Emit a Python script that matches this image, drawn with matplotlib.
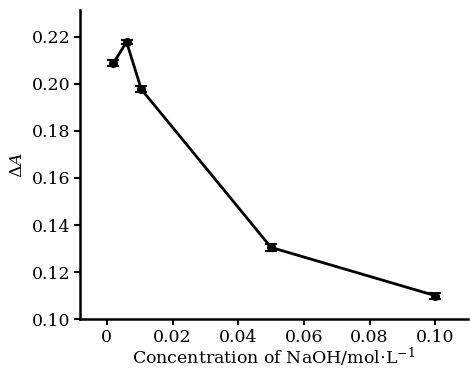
import matplotlib
matplotlib.use("Agg")
import matplotlib.pyplot as plt

# concentration of NaOH (mol/L) and delta A
conc = [0.002, 0.006, 0.0105, 0.05, 0.10]
dA = [0.2088, 0.2178, 0.1977, 0.1305, 0.1100]
err = [0.0013, 0.0010, 0.0012, 0.0015, 0.0013]

xticks = [0, 0.02, 0.04, 0.06, 0.08, 0.10]
xticklabels = ["0", "0.02", "0.04", "0.06", "0.08", "0.10"]
yticks = [0.10, 0.12, 0.14, 0.16, 0.18, 0.20, 0.22]

plt.rcParams['font.family'] = ['DejaVu Serif']
plt.rcParams['mathtext.fontset'] = 'dejavuserif'

fig = plt.figure(figsize=(4.7, 3.69), dpi=100)
ax = fig.add_axes([0.170, 0.135, 0.826, 0.838])

ax.errorbar(conc, dA, yerr=err, color='black', lw=2, marker='o', ms=5.5,
            capsize=4, elinewidth=1.5, capthick=1.5)

ax.set_xlim(-0.0082, 0.110)
ax.set_ylim(0.10, 0.2314)
ax.set_xticks(xticks)
ax.set_xticklabels(xticklabels)
ax.set_yticks(yticks)
ax.set_yticklabels(["%.2f" % v for v in yticks])

for s in ['top', 'right']:
    ax.spines[s].set_visible(False)
for s in ['left', 'bottom']:
    ax.spines[s].set_linewidth(1.8)
ax.tick_params(direction='out', length=4, width=1.5, labelsize=12.5, pad=3)

ax.set_xlabel(r"Concentration of NaOH/mol$\cdot$L$^{-1}$", fontsize=12.5, labelpad=0)
ax.set_ylabel(r"$\Delta A$", fontsize=12.5, labelpad=4)

fig.savefig("out.png", dpi=100)
